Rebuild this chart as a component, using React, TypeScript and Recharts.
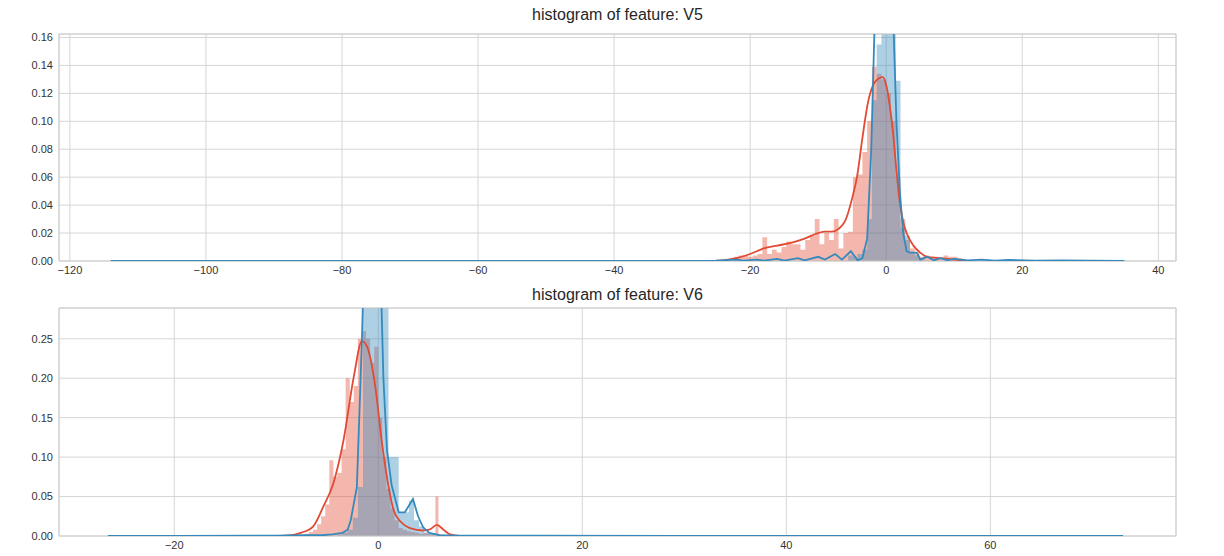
import React from "react";
import {
  ComposedChart, Area, Line, XAxis, YAxis, CartesianGrid, ReferenceArea,
} from "recharts";

type Pt = [number, number];

const RED = "#E24A33";
const BLUE = "#348ABD";
const FONT = "'Liberation Sans', Arial, sans-serif";

// ---- V5 ----
const v5Title = "histogram of feature: V5";
const v5XTicks = [-120, -100, -80, -60, -40, -20, 0, 20, 40];
const v5YTicks = [0, 0.02, 0.04, 0.06, 0.08, 0.1, 0.12, 0.14, 0.16];
const v5XDomain: [number, number] = [-121.6, 42.6];
const v5YMax = 0.1625;

// histogram bins: [bin start, density]; last entry closes the final bin
const v5FraudHist: Pt[] = [
  [-22.4, 0.003], [-21.7, 0.004], [-21.0, 0.004], [-20.3, 0.003], [-19.6, 0.004],
  [-18.9, 0.005], [-18.2, 0.017], [-17.5, 0.005], [-16.8, 0.008], [-16.1, 0.006],
  [-15.4, 0.01], [-14.7, 0.014], [-14.0, 0.012], [-13.3, 0.012], [-12.6, 0.008],
  [-11.9, 0.015], [-11.2, 0.018], [-10.5, 0.03], [-9.8, 0.012], [-9.1, 0.02],
  [-8.4, 0.015], [-7.7, 0.03], [-7.0, 0.009], [-6.3, 0.02], [-5.6, 0.021],
  [-4.9, 0.06], [-4.2, 0.062], [-3.5, 0.078], [-2.8, 0.1], [-2.1, 0.139],
  [-1.4, 0.134], [-0.7, 0.13], [0.0, 0.12], [0.7, 0.1], [1.4, 0.06],
  [2.1, 0.03], [2.8, 0.015], [3.5, 0.009], [4.2, 0.006], [4.9, 0.003],
  [5.6, 0.004], [6.3, 0.003], [7.0, 0.003], [7.7, 0.002], [8.4, 0.004],
  [9.1, 0.003], [9.8, 0.003], [10.5, 0.002], [11.2, 0],
];
const v5NormalHist: Pt[] = [
  [-5.6, 0.004], [-4.9, 0.003], [-4.2, 0.005], [-3.5, 0.008], [-2.8, 0.03],
  [-2.1, 0.115], [-1.4, 0.155], [-0.7, 0.3], [0.0, 0.3], [0.7, 0.2],
  [1.4, 0.129], [2.1, 0.024], [2.8, 0.018], [3.5, 0.006], [4.2, 0.004],
  [4.9, 0.002], [5.6, 0],
];
const v5FraudKde: Pt[] = [
  [-27, 0], [-24, 0.0005], [-22, 0.002], [-20, 0.005], [-18, 0.009], [-16, 0.011],
  [-14, 0.013], [-12, 0.016], [-10, 0.02], [-9, 0.021], [-8, 0.021], [-7, 0.023],
  [-6, 0.029], [-5, 0.045], [-4.3, 0.06], [-3.5, 0.088], [-2.7, 0.113], [-2, 0.125],
  [-1, 0.131], [-0.5, 0.1317], [0, 0.126], [0.5, 0.112], [1, 0.092], [1.5, 0.065],
  [2, 0.042], [2.5, 0.028], [3, 0.02], [4, 0.011], [5, 0.006], [6, 0.003],
  [8, 0.002], [10, 0.001], [12, 0],
];
const v5NormalKde: Pt[] = [
  [-114, 0], [-100, 0], [-80, 0], [-60, 0], [-40, 0], [-25, 0.0003], [-22, 0.001],
  [-21, 0.0003], [-19, 0.001], [-18, 0.0003], [-16, 0.0015], [-15, 0.0003],
  [-13, 0.002], [-12, 0.0005], [-10, 0.003], [-9, 0.001], [-7.5, 0.005],
  [-6.5, 0.001], [-5.2, 0.007], [-4.2, 0.0005], [-3.5, 0.002], [-2.8, 0.016],
  [-2.2, 0.08], [-1.7, 0.17], [-1.2, 0.28], [-0.5, 0.38], [0, 0.38], [0.5, 0.3],
  [1, 0.18], [1.5, 0.1], [2, 0.05], [2.5, 0.02], [3, 0.007], [3.5, 0.006],
  [4.5, 0.006], [5, 0.001], [6, 0.003], [7, 0.0005], [8, 0.002], [9, 0.0005],
  [10, 0.0015], [12, 0.0005], [14, 0.001], [16, 0.0003], [18, 0.0008], [22, 0.0003],
  [26, 0.0005], [30, 0.0002], [35, 0],
];

// ---- V6 ----
const v6Title = "histogram of feature: V6";
const v6XTicks = [-20, 0, 20, 40, 60];
const v6YTicks = [0, 0.05, 0.1, 0.15, 0.2, 0.25];
const v6XDomain: [number, number] = [-31.3, 78.2];
const v6YMax = 0.289;

const v6FraudHist: Pt[] = [
  [-7.6, 0.002], [-7.2, 0.003], [-6.8, 0.005], [-6.4, 0.008], [-6.0, 0.015],
  [-5.6, 0.025], [-5.2, 0.04], [-4.8, 0.096], [-4.4, 0.075], [-4.0, 0.08],
  [-3.6, 0.11], [-3.2, 0.2], [-2.8, 0.17], [-2.4, 0.19], [-2.0, 0.25],
  [-1.6, 0.26], [-1.2, 0.25], [-0.8, 0.22], [-0.4, 0.24], [0.0, 0.15],
  [0.4, 0.1], [0.8, 0.06], [1.2, 0.035], [1.6, 0.02], [2.0, 0.01],
  [2.4, 0.008], [2.8, 0.006], [3.2, 0.005], [3.6, 0.004], [4.0, 0.003],
  [4.4, 0.004], [4.8, 0.003], [5.2, 0.003], [5.6, 0.05], [5.9, 0.002], [6.4, 0],
];
const v6NormalHist: Pt[] = [
  [-4.0, 0.002], [-3.5, 0.004], [-3.0, 0.008], [-2.5, 0.023], [-2.0, 0.062],
  [-1.5, 0.3], [-1.0, 0.3], [-0.5, 0.3], [0.0, 0.3], [0.5, 0.3],
  [1.0, 0.1], [1.5, 0.1], [2.0, 0.03], [2.5, 0.03], [3.0, 0.045],
  [3.5, 0.02], [4.0, 0.012], [4.5, 0.004], [5.0, 0.002], [5.5, 0],
];
const v6FraudKde: Pt[] = [
  [-10, 0], [-8.5, 0.001], [-7.6, 0.004], [-6.4, 0.012], [-5.4, 0.037],
  [-4.4, 0.067], [-3.4, 0.122], [-2.4, 0.202], [-1.6, 0.247], [-1.1, 0.24],
  [-0.3, 0.19], [0.36, 0.118], [1.0, 0.063], [1.5, 0.033], [2.2, 0.018],
  [3.1, 0.01], [4.4, 0.007], [5.0, 0.008], [5.75, 0.014], [6.4, 0.008],
  [7.06, 0.002], [8, 0],
];
const v6NormalKde: Pt[] = [
  [-26.5, 0], [-20, 0], [-10, 0.0005], [-7, 0.001], [-5.5, 0.001], [-4.5, 0.002],
  [-3.5, 0.004], [-3, 0.008], [-2.7, 0.02], [-2.1, 0.062], [-1.6, 0.25],
  [-1.3, 0.4], [-0.8, 0.55], [-0.3, 0.55], [0.2, 0.35], [0.5, 0.2], [0.85, 0.109],
  [1.3, 0.065], [1.8, 0.04], [2.0, 0.03], [2.6, 0.03], [3.4, 0.047], [3.9, 0.025],
  [4.4, 0.011], [5, 0.004], [6, 0.001], [8, 0.0005], [15, 0.0003], [30, 0.0002],
  [50, 0.0001], [73, 0],
];

const toRows = (pts: Pt[]) => pts.map(([x, y]) => ({ x, y }));
const fmtX = (v: number) => (v < 0 ? "\u2212" + Math.abs(v) : String(v));

type PanelProps = {
  title: string;
  top: number;
  height: number;
  plotTop: number;
  xAxisHeight: number;
  xDomain: [number, number];
  xTicks: number[];
  yMax: number;
  yTicks: number[];
  fraudHist: Pt[];
  normalHist: Pt[];
  fraudKde: Pt[];
  normalKde: Pt[];
};

function Panel(p: PanelProps) {
  const tick = { fontSize: 11, fill: "#333", fontFamily: FONT };
  return (
    <div style={{ position: "absolute", left: 0, top: p.top, width: 1224, height: p.height }}>
      <div
        style={{
          position: "absolute", left: 59, width: 1117, top: 6, textAlign: "center",
          fontFamily: FONT, fontSize: 16, lineHeight: "18px", color: "#262626",
        }}
      >
        {p.title}
      </div>
      <ComposedChart
        width={1224}
        height={p.height}
        margin={{ top: p.plotTop, right: 48, bottom: 0, left: 0 }}
      >
        <CartesianGrid stroke="#d6d6d6" />
        <XAxis
          type="number"
          dataKey="x"
          domain={p.xDomain}
          ticks={p.xTicks}
          allowDataOverflow
          axisLine={false}
          tickLine={false}
          tickSize={0}
          tickMargin={5}
          height={p.xAxisHeight}
          tick={tick}
          tickFormatter={fmtX}
        />
        <YAxis
          type="number"
          domain={[0, p.yMax]}
          ticks={p.yTicks}
          allowDataOverflow
          axisLine={false}
          tickLine={false}
          tickSize={0}
          tickMargin={6}
          width={59}
          tick={tick}
          tickFormatter={(v: number) => v.toFixed(2)}
        />
        <Area data={toRows(p.fraudHist)} dataKey="y" type="stepAfter" stroke="none"
          fill={RED} fillOpacity={0.4} isAnimationActive={false} />
        <Area data={toRows(p.normalHist)} dataKey="y" type="stepAfter" stroke="none"
          fill={BLUE} fillOpacity={0.4} isAnimationActive={false} />
        <Line data={toRows(p.fraudKde)} dataKey="y" type="monotone" stroke={RED}
          strokeWidth={1.8} dot={false} isAnimationActive={false} />
        <Line data={toRows(p.normalKde)} dataKey="y" type="linear" stroke={BLUE}
          strokeWidth={1.8} dot={false} isAnimationActive={false} />
        <ReferenceArea x1={p.xDomain[0]} x2={p.xDomain[1]} y1={0} y2={p.yMax}
          fill="none" stroke="#cccccc" strokeWidth={1} />
      </ComposedChart>
    </div>
  );
}

export default function App() {
  return (
    <div style={{ position: "absolute", left: 0, top: 0, width: 1224, height: 556, background: "#fff" }}>
      <Panel title={v5Title} top={0} height={280} plotTop={34} xAxisHeight={19}
        xDomain={v5XDomain} xTicks={v5XTicks} yMax={v5YMax} yTicks={v5YTicks}
        fraudHist={v5FraudHist} normalHist={v5NormalHist}
        fraudKde={v5FraudKde} normalKde={v5NormalKde} />
      <Panel title={v6Title} top={280} height={276} plotTop={28} xAxisHeight={20}
        xDomain={v6XDomain} xTicks={v6XTicks} yMax={v6YMax} yTicks={v6YTicks}
        fraudHist={v6FraudHist} normalHist={v6NormalHist}
        fraudKde={v6FraudKde} normalKde={v6NormalKde} />
    </div>
  );
}
